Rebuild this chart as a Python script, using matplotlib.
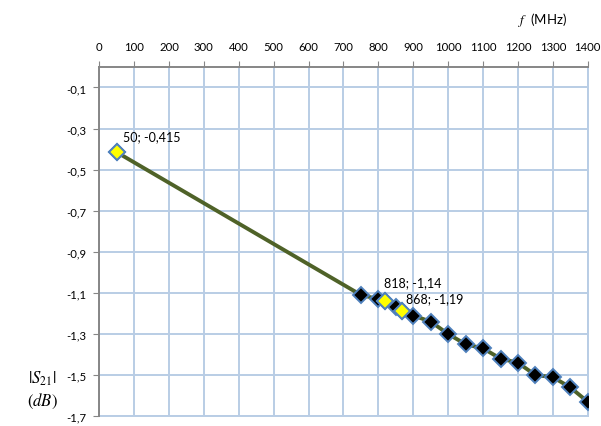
import matplotlib
matplotlib.use("Agg")
import matplotlib.pyplot as plt
from matplotlib.ticker import FuncFormatter

# Measured transmission |S21| versus frequency
freq_mhz = [50, 750, 800, 818, 850, 868, 900, 950, 1000, 1050, 1100, 1150,
            1200, 1250, 1300, 1350, 1400]
s21_db = [-0.415, -1.11, -1.13, -1.14, -1.17, -1.19, -1.21, -1.24, -1.30,
          -1.35, -1.37, -1.42, -1.44, -1.50, -1.51, -1.56, -1.63]

# Highlighted points carrying value labels
marked_freq = [50, 818, 868]
marked_s21 = [-0.415, -1.14, -1.19]
marked_text = ["50; -0,415", "818; -1,14", "868; -1,19"]
marked_offset = [(6, 16), (-1, 19), (4, 13)]

x_ticks = list(range(0, 1401, 100))
y_ticks = [-0.1, -0.3, -0.5, -0.7, -0.9, -1.1, -1.3, -1.5, -1.7]

plt.rcParams["font.family"] = ["Lato", "DejaVu Sans"]
plt.rcParams["mathtext.fontset"] = "stix"

fig = plt.figure(figsize=(6.01, 4.27), dpi=100)
ax = fig.add_axes([0.165, 0.023, 0.813, 0.818])

grid_c = "#B9CDE5"
ax.set_xlim(0, 1400)
ax.set_ylim(-1.7, 0)
ax.set_xticks(x_ticks)
ax.set_yticks(y_ticks)
ax.grid(True, color=grid_c, linewidth=1.4, zorder=0)
ax.set_axisbelow(True)

for side in ("right", "bottom"):
    ax.spines[side].set_visible(False)
for side in ("left", "top"):
    ax.spines[side].set_color("#868686")
    ax.spines[side].set_linewidth(1.4)
ax.axhline(-1.7, color=grid_c, linewidth=1.4, zorder=0, clip_on=False)
ax.axvline(1400, color=grid_c, linewidth=1.4, zorder=0, clip_on=False)

ax.xaxis.tick_top()
ax.tick_params(axis="x", which="major", length=4, color="#868686",
               labelsize=8.2, pad=7)
ax.tick_params(axis="y", which="major", length=4, color="#868686",
               labelsize=8.2, pad=5)
ax.yaxis.set_major_formatter(
    FuncFormatter(lambda v, p: f"{v:.1f}".replace(".", ",")))

ax.plot(freq_mhz, s21_db, color="#4F6228", linewidth=2.8, zorder=2)
ax.plot(freq_mhz, s21_db, linestyle="none", marker="D", markersize=8,
        markerfacecolor="black", markeredgecolor="#4F81BD",
        markeredgewidth=1.4, zorder=3)
ax.plot(marked_freq, marked_s21, linestyle="none", marker="D", markersize=8,
        markerfacecolor="#FFFF00", markeredgecolor="#4F81BD",
        markeredgewidth=1.4, zorder=4)

for fx, fy, txt, off in zip(marked_freq, marked_s21, marked_text, marked_offset):
    ax.annotate(txt, (fx, fy), xytext=off, textcoords="offset pixels",
                fontsize=9, ha="left", va="center", zorder=5)

fig.text(0.903, 0.953, r"$f$  (MHz)", fontsize=9.5, ha="center", va="center")
fig.text(0.070, 0.113, r"$|S_{21}|$", fontsize=12, ha="center", va="center")
fig.text(0.070, 0.060, r"$(dB)$", fontsize=12, ha="center", va="center")

fig.savefig("out.png", dpi=100)
